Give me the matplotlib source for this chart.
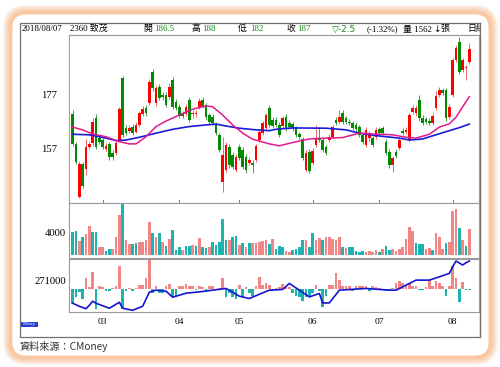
import matplotlib
matplotlib.use('Agg')
import matplotlib.pyplot as plt
from matplotlib.patches import FancyBboxPatch, Rectangle
import numpy as np

# ---------------- data ----------------
opens = [170.1,159.2,140.0,151.9,150.0,158.0,159.4,168.5,161.2,160.6,
         157.2,159.2,156.0,155.8,160.6,183.1,164.9,164.0,165.3,163.7,
         166.1,170.1,172.2,174.0,185.5,174.0,180.0,177.0,177.0,176.4,
         182.4,174.6,172.7,170.3,170.1,175.2,169.9,170.1,172.7,175.2,
         173.4,169.7,169.1,166.1,162.5,145.5,149.7,158.2,155.2,149.7,
         158.2,157.0,154.6,152.2,152.4,153.4,160.6,163.1,164.9,172.2,
         167.9,167.9,166.1,165.7,169.1,166.9,166.4,164.9,162.7,160.9,
         149.7,156.4,152.2,158.8,161.2,160.6,158.0,160.6,161.6,167.9,
         167.3,170.6,168.5,167.3,166.7,166.1,165.3,162.5,158.8,161.2,
         161.2,161.8,164.5,164.9,160.0,156.4,151.5,156.4,157.6,164.0,
         163.7,160.6,170.9,170.3,175.2,168.7,168.2,167.7,166.9,172.2,
         177.0,178.8,178.8,169.1,177.0,189.7,196.4,186.1,186.7,189.1]
closes = [159.2,152.7,151.9,143.9,158.0,159.2,167.3,158.2,160.0,158.2,
          158.4,154.3,154.3,159.4,171.8,162.5,163.1,164.9,163.1,166.1,
          170.3,171.8,170.3,181.8,179.4,179.4,175.8,176.2,173.4,180.0,
          172.7,172.2,169.4,169.4,172.7,167.9,170.3,170.4,174.8,173.0,
          168.9,167.3,166.7,163.3,157.0,155.2,158.8,151.5,150.9,154.6,
          154.0,150.9,149.7,153.4,151.7,158.4,163.7,166.7,169.7,166.1,
          165.7,166.1,162.5,168.5,164.9,165.3,164.9,162.5,161.6,154.0,
          156.0,149.5,156.7,161.2,160.6,157.0,155.8,161.8,165.3,166.7,
          168.9,167.3,167.3,166.9,164.9,164.5,162.5,160.0,164.3,163.1,
          158.8,164.3,163.3,163.1,155.8,151.5,154.0,154.8,160.6,163.1,
          164.3,169.7,172.2,172.2,168.5,166.9,167.3,166.9,169.4,176.6,
          178.8,177.6,168.5,172.7,189.7,194.0,185.5,189.7,187.3,193.6]
highs = [171.5,160.0,152.8,152.6,161.1,160.2,168.6,170.0,162.0,161.5,
         159.5,160.0,157.0,160.5,172.5,184.0,166.0,166.2,166.4,167.0,
         171.2,172.8,173.2,182.8,186.5,180.6,181.0,178.2,178.0,181.2,
         183.4,175.6,173.6,171.2,173.6,176.2,171.6,171.6,175.8,176.2,
         174.2,170.6,170.0,167.0,163.2,161.8,159.8,159.2,156.2,155.6,
         159.2,157.9,155.4,154.4,153.4,159.2,164.6,167.6,170.6,173.2,
         168.8,168.8,167.0,169.4,170.0,167.8,167.2,165.8,163.6,161.8,
         157.0,157.3,157.6,166.1,165.5,161.4,158.8,162.8,166.2,168.8,
         171.5,171.4,169.4,168.2,167.6,167.0,166.2,163.4,165.2,164.0,
         162.1,165.2,165.4,165.8,160.9,157.3,154.9,157.3,161.5,164.9,
         165.4,170.6,173.2,173.2,176.9,169.6,169.1,168.6,170.3,178.5,
         179.8,179.7,179.7,173.6,190.6,195.0,198.0,190.6,188.0,195.9]
lows = [158.4,151.8,139.4,143.0,147.9,157.2,158.6,157.5,159.0,157.4,
        156.5,153.5,153.2,155.0,160.0,161.8,162.3,163.2,162.5,163.0,
        165.4,169.4,169.5,173.2,178.6,173.0,175.0,175.3,172.6,175.6,
        171.8,171.4,168.6,168.6,169.3,167.0,168.6,168.8,172.0,172.2,
        168.0,166.5,165.9,162.5,156.2,141.8,148.8,150.6,150.0,148.8,
        153.2,150.0,148.6,151.4,148.6,152.6,159.8,162.3,164.1,165.3,
        164.9,165.3,161.7,165.0,164.0,164.5,164.0,161.7,160.8,153.2,
        148.8,148.6,151.4,158.0,159.8,156.2,155.0,159.8,160.8,165.9,
        166.5,166.5,166.5,166.0,164.1,163.7,161.7,159.2,158.0,160.4,
        158.0,161.0,162.5,162.3,155.0,150.6,149.1,154.0,156.8,162.3,
        162.9,159.8,170.1,169.5,167.7,166.1,166.5,166.1,166.1,171.4,
        176.2,176.8,167.7,168.3,176.2,188.9,184.7,185.3,182.4,188.3]

ma20_idx = [0,3,6,10,14,17,19,22,25,28,32,36,40,42,45,48,51,54,59,62,66,71,
            76,81,86,90,96,100,103,107,110,113,115,117,119]
ma20_val = [165.3,164.3,162.8,161.8,160.0,159.2,159.2,161.8,165.5,167.5,169.7,
            171.8,173.0,172.7,169.7,166.1,163.1,160.9,159.2,158.5,159.7,161.0,
            161.3,161.5,163.1,162.8,162.5,161.6,161.3,162.7,165.3,166.5,168.9,
            172.7,176.4]
ma60_idx = [0,5,10,13,16,20,25,30,35,40,43,46,50,55,59,61,66,76,82,86,91,98,
            101,105,109,113,116,119]
ma60_val = [162.7,162.5,161.3,160.4,160.6,161.6,163.1,164.5,165.5,166.1,166.4,
            165.7,164.9,164.3,164.0,164.5,165.0,164.9,164.3,163.1,162.2,161.3,
            160.6,161.0,162.5,164.0,165.1,166.4]

volumes = [4190,4250,2600,3190,3720,5190,4190,4190,1530,1420,
           830,1120,1120,3190,7200,9090,2710,2010,2010,2120,
           2300,2300,2710,5960,4010,3300,3890,2420,1710,2890,
           4480,940,1530,940,1710,1710,1830,1650,3010,1420,
           1240,1420,2300,1830,2300,6370,2710,2710,3300,3420,
           1830,2120,1530,2120,2120,2240,2420,2600,2710,2010,
           2830,1060,1650,1420,770,650,940,1060,1420,2710,
           2710,1420,3890,2710,3010,2710,3300,3300,2830,2710,
           3300,1420,1240,1420,1530,830,650,830,650,830,
           650,940,650,1060,1650,940,1060,830,1060,1420,
           2830,4960,4370,2120,2010,2010,1060,1240,940,4010,
           3300,1060,2120,2420,7910,8260,4780,2710,1650,4600]
vol_dir = ("ggrgrrggrr" "ggrrrgrrgg" "rrrrgrgrgr" "gggrggrgrg" "grgggggrgg"
           "rgrgrrrrrg" "rgggrrgggg" "rggrrgrrrr" "rgrgggggrr" "rrgrggrrrr"
           "rrrgggrrgr" "rrgrrrgrgr")

net_buy = [-1260,-630,-270,-810,990,180,1530,-1710,270,180,
           -180,-180,90,270,2070,-1710,-180,90,-180,90,
           360,360,990,2610,-360,270,-360,-360,270,450,
           -630,-540,270,270,450,270,270,-90,270,180,
           -180,270,270,-90,90,990,-630,-360,-630,-810,
           360,-630,180,-360,-540,270,1080,360,540,360,
           -180,90,180,450,180,180,-360,-540,-630,-990,
           -630,-630,-360,360,-180,-1530,-540,360,360,1440,
           810,270,270,270,-180,270,270,270,270,-180,
           270,180,90,-90,-180,-180,90,540,720,540,
           360,540,270,270,-90,-90,180,810,270,720,
           540,270,-540,270,2070,990,-1080,630,-90,-85]
hold_idx = [0,2,4,5,6,7,11,14,15,18,21,23,25,28,30,32,34,38,42,46,48,50,53,
            57,59,63,65,68,71,74,75,77,80,88,95,97,100,103,107,110,113,114,
            115,117,118,119]
hold_val = [266335,265678,265131,265897,266773,266335,265240,266554,265240,
            264802,265678,268744,269182,268963,267649,268087,268525,268810,
            269182,269555,268744,267868,267365,268591,269182,269336,270650,
            269182,267715,268460,266401,266401,269182,269555,269182,269182,
            270277,271372,271372,272095,272840,274285,275533,274657,275161,
            275528]

month_idx = [9, 32, 50, 72, 92, 114]
month_labels = ['03', '04', '05', '06', '07', '08']

# ---------------- styling ----------------
RED = '#FF0000'
GRN = '#008A00'
VRED = '#F28585'
VTEAL = '#1EB3AE'
PINK = '#E0198C'
BLUE = '#1A1ADC'
SERIF = ['Liberation Serif', 'Noto Sans CJK TC', 'DejaVu Sans']
SANS = ['Noto Sans CJK TC', 'DejaVu Sans']

W, H = 500, 367
fig = plt.figure(figsize=(5, 3.67), dpi=100)
fig.patch.set_facecolor('white')

bg = fig.add_axes([0, 0, 1, 1])
bg.set_xlim(0, W)
bg.set_ylim(H, 0)
bg.axis('off')

# orange glow frame
for d in range(9, 0, -1):
    bg.add_patch(FancyBboxPatch((12 - d, 14 - d), 477 + 2 * d, 342 + 2 * d,
                                boxstyle=f"round,pad=0,rounding_size={14 + d}",
                                facecolor='#F8A262', edgecolor='none', alpha=0.10))
bg.add_patch(FancyBboxPatch((12, 14), 477, 342, boxstyle="round,pad=0,rounding_size=14",
                            facecolor='white', edgecolor='#FAD2B0', lw=0.8))
# chart outer frame
bg.add_patch(Rectangle((20, 23), 460, 314, facecolor='white', edgecolor='#707070', lw=0.9, zorder=1))


def px_axes(x0, y0, x1, y1):
    return fig.add_axes([x0 / W, 1 - y1 / H, (x1 - x0) / W, (y1 - y0) / H])


XL = (-1.1, 121.9)
n = len(opens)
idx = np.arange(n)

# ---------------- price panel ----------------
axp = px_axes(69, 35, 479, 203)
axp.set_xlim(*XL)
axp.set_ylim(137.7, 198.8)
o = np.array(opens); c = np.array(closes); hi = np.array(highs); lo = np.array(lows)
up = c >= o
axp.vlines(idx[up], lo[up], hi[up], color='#EE6A6A', lw=0.7, zorder=2)
axp.vlines(idx[~up], lo[~up], hi[~up], color='#4E9E4E', lw=0.7, zorder=2)
bot = np.minimum(o, c)
ht = np.maximum(np.abs(c - o), 0.35)
axp.bar(idx[up], ht[up], bottom=bot[up], width=0.72, color=RED, lw=0, zorder=3)
axp.bar(idx[~up], ht[~up], bottom=bot[~up], width=0.72, color=GRN, lw=0, zorder=3)
axp.plot(ma60_idx, ma60_val, color=BLUE, lw=1.2, zorder=4)
axp.plot(ma20_idx, ma20_val, color=PINK, lw=1.1, zorder=4)
axp.set_xticks([]); axp.set_yticks([])
for s in axp.spines.values():
    s.set_color('#9A9A9A'); s.set_linewidth(0.8)
axp.spines['left'].set_color('#D08A8A')
for m in month_idx:
    axp.plot([m, m], [137.7, 138.9], color='#B07070', lw=0.8, zorder=1)

# ---------------- volume panel ----------------
axv = px_axes(69, 203, 479, 258)
axv.set_xlim(*XL)
axv.set_ylim(-480, 9260)
vcol = [VRED if d == 'r' else VTEAL for d in vol_dir]
axv.bar(idx, volumes, width=0.72, color=vcol, lw=0)
axv.set_xticks([]); axv.set_yticks([])
for s in axv.spines.values():
    s.set_color('#9A9A9A'); s.set_linewidth(0.8)

# ---------------- institutional panel ----------------
axi = px_axes(69, 259, 479, 312)
axi.set_xlim(*XL)
axi.set_ylim(-2016, 2727)
nb = np.array(net_buy)
axi.bar(idx, nb, width=0.72, color=[VRED if v > 0 else VTEAL for v in nb], lw=0)
axi.set_xticks([]); axi.set_yticks([])
for s in axi.spines.values():
    s.set_color('#9A9A9A'); s.set_linewidth(0.8)
axh = axi.twinx()
axh.set_xlim(*XL)
axh.set_ylim(264430, 275971)
axh.plot(hold_idx, hold_val, color='#1414D0', lw=1.2)
axh.set_yticks([])
for s in axh.spines.values():
    s.set_visible(False)

# ---------------- texts ----------------
hy = 29
fs = 6.4
bg.text(22, hy, '2018/08/07', fontsize=fs, family=SERIF, va='center')
bg.text(70, hy, '2360 致茂', fontsize=fs, family=SERIF, va='center')
pairs = [(143, '開', 154, '186.5'), (191, '高', 202, '188'),
         (238, '低', 250, '182'), (286, '收', 297, '187')]
for x1, lab, x2, val in pairs:
    bg.text(x1, hy, lab, fontsize=fs, family=SERIF, va='center')
    bg.text(x2, hy, val, fontsize=fs, family=SERIF, va='center', color='#1A8A1A')
bg.text(332, hy, '▽-2.5', fontsize=fs, family=['DejaVu Sans'], va='center', color='#1A8A1A')
bg.text(367, hy, '(-1.32%)', fontsize=fs, family=SERIF, va='center')
bg.text(403, hy, '量 1562', fontsize=fs, family=SERIF, va='center')
bg.text(433, hy, '↓', fontsize=fs, family=['DejaVu Sans'], va='center')
bg.text(440, hy, '張', fontsize=fs, family=SERIF, va='center')
bg.text(467, hy, '日線', fontsize=fs, family=SERIF, va='center')
# mask the part of the header running past the frame
bg.add_patch(Rectangle((480.4, 23.5), 8, 12, facecolor='white', edgecolor='none', zorder=8))
bg.plot([480, 480], [23, 337], color='#707070', lw=0.9, zorder=9)
bg.plot([69, 480], [35, 35], color='#9A9A9A', lw=0.8)

# MA legend box
bg.add_patch(Rectangle((69, 35.5), 161, 16.5, facecolor='white', edgecolor='#E0E0E0', lw=0.6, zorder=5))
bg.text(71, 40, 'M20', fontsize=5.3, family=SERIF, color=PINK, va='center', zorder=6)
bg.text(71, 48, 'M60', fontsize=5.3, family=SERIF, color=BLUE, va='center', zorder=6)
bg.text(200, 40, '174.88', fontsize=5.3, family=SERIF, color=PINK, va='center', zorder=6)
bg.text(200, 48, '165.95', fontsize=5.3, family=SERIF, color=BLUE, va='center', zorder=6)
bg.text(222, 40, '↑', fontsize=5.3, family=['DejaVu Sans'], color=PINK, va='center', zorder=6)
bg.text(222, 48, '↑', fontsize=5.3, family=['DejaVu Sans'], color=BLUE, va='center', zorder=6)

# VOL legend box
bg.add_patch(Rectangle((247, 204), 154, 27, facecolor='white', edgecolor='#E0E0E0', lw=0.6, zorder=5))
for yy, lab, val, arr, col in [(209, 'VOL', '1562', '↓', 'black'),
                               (217, '5', '5015', '↓', '#E00000'),
                               (224.5, '10', '3781', '↑', '#1010C0')]:
    bg.text(250, yy, lab, fontsize=5.3, family=SERIF, color=col, va='center', zorder=6)
    bg.text(378, yy, val, fontsize=5.3, family=SERIF, color=col, va='center', zorder=6)
    bg.text(392, yy, arr, fontsize=5.3, family=['DejaVu Sans'], color=col, va='center', zorder=6)

# institutional legend box
bg.add_patch(Rectangle((153, 259.5), 168, 16.5, facecolor='white', edgecolor='#E0E0E0', lw=0.6, zorder=5))
bg.text(156, 263.5, '三大法人', fontsize=5.4, family=SANS, color='#1A1AA0', va='center', zorder=6)
bg.text(156, 271.5, '買賣超', fontsize=5.4, family=SANS, color='black', va='center', zorder=6)
bg.text(285, 263.5, '275528', fontsize=5.3, family=SERIF, color='#1A1AA0', va='center', zorder=6)
bg.text(306.5, 263.5, '↓', fontsize=5.3, family=['DejaVu Sans'], color='#1A1AA0', va='center', zorder=6)
bg.text(312, 263.5, '張', fontsize=5.4, family=SANS, color='#1A1AA0', va='center', zorder=6)
bg.text(285, 271.5, '-85', fontsize=5.3, family=SERIF, color='black', va='center', zorder=6)
bg.text(295.5, 271.5, '↓', fontsize=5.3, family=['DejaVu Sans'], color='black', va='center', zorder=6)
bg.text(301, 271.5, '張', fontsize=5.4, family=SANS, color='black', va='center', zorder=6)

# y labels
yl = 7.7
bg.text(57, 95, '177', fontsize=yl, family=SERIF, ha='right', va='center')
bg.text(57, 150, '157', fontsize=yl, family=SERIF, ha='right', va='center')
bg.text(66, 233, '4000', fontsize=yl, family=SERIF, ha='right', va='center')
bg.text(66, 282, '271000', fontsize=yl, family=SERIF, ha='right', va='center')

# month labels
for m, lab in zip(month_idx, month_labels):
    xpx = 69 + (m - XL[0]) / (XL[1] - XL[0]) * 410
    bg.text(xpx, 322, lab, fontsize=6.8, family=SERIF, ha='center', va='center')

# CMoney logo
bg.add_patch(Rectangle((20.5, 321.5), 17, 5, facecolor='#2A3FD0', edgecolor='none'))
bg.text(29, 324, 'CMoney', fontsize=2.3, color='white', ha='center', va='center')

# source
bg.text(20, 346, '資料來源：CMoney', fontsize=7.3, family=SANS, color='#333333', va='center')

fig.savefig('out.png', dpi=100)
